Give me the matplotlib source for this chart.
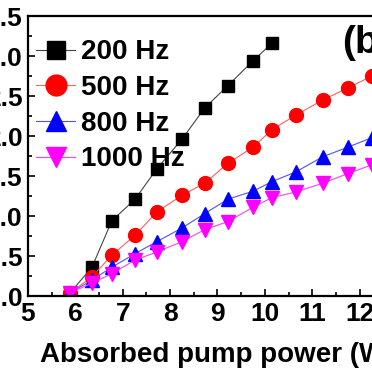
import matplotlib
matplotlib.use("Agg")
import matplotlib.pyplot as plt
from matplotlib.ticker import MultipleLocator, FormatStrFormatter

plt.rcParams['font.family'] = ['Liberation Sans', 'DejaVu Sans']
plt.rcParams['font.weight'] = 'bold'

# absorbed pump power (W)
x_200 = [5.89, 6.35, 6.77, 7.26, 7.72, 8.25, 8.73, 9.22, 9.75, 10.15]
y_200 = [0.04, 0.36, 0.94, 1.21, 1.59, 1.96, 2.35, 2.63, 2.94, 3.16]

x_500 = [5.89, 6.35, 6.77, 7.26, 7.72, 8.25, 8.73, 9.22, 9.75, 10.15, 10.65, 11.22, 11.75, 12.26]
y_500 = [0.04, 0.24, 0.51, 0.76, 1.05, 1.26, 1.41, 1.66, 1.86, 2.08, 2.26, 2.45, 2.60, 2.75]

x_800 = [5.89, 6.35, 6.77, 7.26, 7.72, 8.25, 8.73, 9.22, 9.75, 10.15, 10.65, 11.22, 11.75, 12.26]
y_800 = [0.04, 0.20, 0.36, 0.53, 0.68, 0.85, 1.03, 1.21, 1.31, 1.43, 1.55, 1.74, 1.86, 1.98]

x_1000 = [5.89, 6.35, 6.77, 7.26, 7.72, 8.25, 8.73, 9.22, 9.75, 10.15, 10.65, 11.22, 11.75, 12.26]
y_1000 = [0.04, 0.16, 0.28, 0.45, 0.55, 0.68, 0.83, 0.93, 1.11, 1.23, 1.30, 1.41, 1.53, 1.64]

labels = ['200 Hz', '500 Hz', '800 Hz', '1000 Hz']

fig = plt.figure(figsize=(3.72, 3.72), dpi=100)
ax = fig.add_axes([28/372, 76/372, 379/372, 280/372])

ax.plot(x_200, y_200, color='#444444', lw=0.8, marker='s', ms=9, mfc='black', mec='black', label=labels[0])
ax.plot(x_500, y_500, color='#ff6060', lw=0.8, marker='o', ms=10, mfc='red', mec='red', label=labels[1])
ax.plot(x_800, y_800, color='#5050ff', lw=0.8, marker='^', ms=10, mfc='blue', mec='blue', label=labels[2])
ax.plot(x_1000, y_1000, color='#ff40ff', lw=0.8, marker='v', ms=10, mfc='magenta', mec='magenta', label=labels[3])

ax.set_xlim(5, 13)
ax.set_ylim(0, 3.5)
ax.xaxis.set_major_locator(MultipleLocator(1))
ax.xaxis.set_minor_locator(MultipleLocator(0.5))
ax.yaxis.set_major_locator(MultipleLocator(0.5))
ax.yaxis.set_minor_locator(MultipleLocator(0.25))
ax.tick_params(which='both', direction='in', width=1.2, labelsize=19, top=False, right=False)
ax.tick_params(which='major', length=5, pad=4)
ax.tick_params(which='minor', length=3)
ax.yaxis.set_major_formatter(FormatStrFormatter('%.1f'))
for s in ax.spines.values():
    s.set_linewidth(1.6)

ax.set_xlabel('Absorbed pump power (W)', fontsize=20, fontweight='bold', labelpad=12)

ax.legend(loc='upper left', bbox_to_anchor=(0.022, 0.917), frameon=False,
          markerscale=1.5, handlelength=1.4, handletextpad=0.2, labelspacing=0.35,
          borderaxespad=0, borderpad=0,
          prop={'weight': 'bold', 'size': 20})

fig.text(342/372, 1 - 43/372, '(b)', fontsize=28, fontweight='bold', ha='left', va='center')

fig.savefig('out.png', dpi=100)
